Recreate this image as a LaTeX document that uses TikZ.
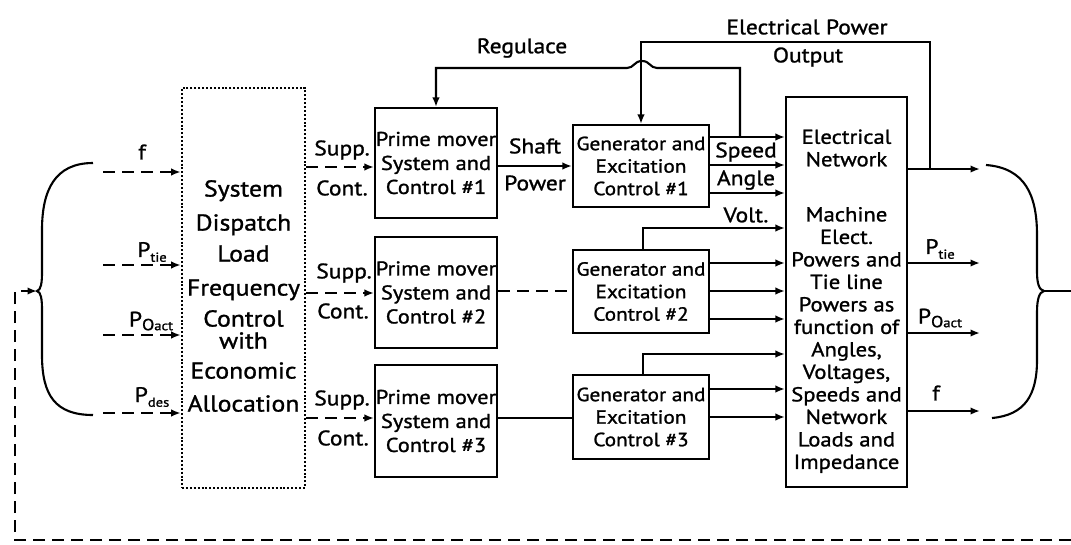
\documentclass[tikz,border=0pt]{standalone}
\usepackage{fontspec}
\setmainfont{PT Sans}
\newfontfamily\basef{PT Sans}[FakeStretch=1.12, FakeBold=1.2]
\usetikzlibrary{arrows.meta}
\newcommand{\pmf}{\basef\fontsize{20}{24}\selectfont}
\newcommand{\genf}{\basef\fontsize{19}{22.5}\selectfont}
\newcommand{\netf}{\basef\fontsize{20.2}{22.5}\selectfont}
\newcommand{\dispf}{\basef\fontsize{23}{22}\selectfont}
\newcommand{\lblf}{\basef\fontsize{21}{22}\selectfont}
\newcommand{\subfont}{\fontsize{13}{14}\selectfont}
\newcommand{\subO}{\fontsize{16}{16}\selectfont}
\begin{document}
\begin{tikzpicture}[x=1pt,y=-1pt,
  box/.style={draw, line width=2.1pt, inner sep=0pt, align=center},
  dotbox/.style={draw, line width=2.6pt, dash pattern=on 2pt off 1.9pt, inner sep=0pt},
  txt/.style={inner sep=0pt, align=center},
  lbl/.style={inner sep=0pt, align=center, font=\lblf},
  conn/.style={line width=2.1pt, -{Latex[length=9.5pt,width=7.5pt]}},
  dconn/.style={conn, dash pattern=on 12pt off 7pt},
  plain/.style={line width=2.1pt},
  dplain/.style={line width=2.1pt, dash pattern=on 12pt off 7pt}]
\useasboundingbox (0,0) rectangle (1071,544);
\fill[white] (0,0) rectangle (1071,544);

% boxes
\node[dotbox, minimum width=123pt, minimum height=400pt] (disp) at (243.5,288) {};
\node[txt, font=\dispf] (disptext) at (243.5,296) {System\\[12pt]Dispatch\\[9pt]Load\\[12pt]Frequency\\[9pt]Control\\with\\[8pt]Economic\\[11pt]Allocation};
\node[box, font=\pmf, minimum width=122pt, minimum height=110pt] (pm1) at (436,163) {Prime mover\\System and\\Control \#1};
\node[box, font=\pmf, minimum width=122pt, minimum height=111pt] (pm2) at (436,292.5) {Prime mover\\System and\\Control \#2};
\node[box, font=\pmf, minimum width=122pt, minimum height=112pt] (pm3) at (436,421) {Prime mover\\System and\\Control \#3};
\node[box, font=\genf, minimum width=136pt, minimum height=82pt] (gen1) at (641,166) {Generator and\\Excitation\\Control \#1};
\node[box, font=\genf, minimum width=136pt, minimum height=83pt] (gen2) at (641,291.5) {Generator and\\Excitation\\Control \#2};
\node[box, font=\genf, minimum width=136pt, minimum height=84pt] (gen3) at (641,417) {Generator and\\Excitation\\Control \#3};
\node[box, minimum width=121pt, minimum height=390pt] (net) at (846.5,292) {};
\node[txt, font=\netf] (netA) at (846.5,148) {Electrical\\Network};
\node[txt, font=\netf] (netB) at (846.5,340) {Machine\\Elect.\\Powers and\\Tie line\\Powers as\\function of\\Angles,\\Voltages,\\Speeds and\\Network\\Loads and\\Impedance};

% inputs to dispatch
\coordinate (inf) at (103,172);
\coordinate (intie) at (103,265);
\coordinate (inact) at (103,335);
\coordinate (indes) at (103,413);
\draw[dconn] (inf) -- (inf -| disp.west);
\draw[dconn] (intie) -- (intie -| disp.west);
\draw[dconn] (inact) -- (inact -| disp.west);
\draw[dconn] (indes) -- (indes -| disp.west);
\node[lbl] (lf) at (142,152) {f};
\node[lbl] (ltie) at (152,252) {P\raisebox{-0.45ex}{\subfont tie}};
\node[lbl] (lact) at (151,321) {P\raisebox{-0.35ex}{\subO O\subfont act}};
\node[lbl] (ldes) at (152,397) {P\raisebox{-0.45ex}{\subfont des}};

% left brace
\coordinate (lbtip) at (37,291);
\draw[plain] (93,163) .. controls (55,163) and (42,190) .. (42,230) -- (42,272)
  .. controls (42,283) and (41,290) .. (lbtip)
  .. controls (41,292) and (42,299) .. (42,310) -- (42,355)
  .. controls (42,395) and (55,415) .. (93,415);

% feedback dashed
\coordinate (fbR) at (1071,540);
\draw[dconn] (fbR) -- (15,540) -- (15,291) -- (lbtip);

% supp cont
\draw[dconn] (disp.east |- 0,167) -- (pm1.west |- 0,167);
\draw[dconn] (disp.east |- 0,293) -- (pm2.west |- 0,293);
\draw[dconn] (disp.east |- 0,418) -- (pm3.west |- 0,418);
\node[lbl] (s1) at (342,150) {Supp.};
\node[lbl] (c1) at (342,188) {Cont.};
\node[lbl] (s2) at (344,273) {Supp.};
\node[lbl] (c2) at (343,311) {Cont.};
\node[lbl] (s3) at (342,400) {Supp.};
\node[lbl] (c3) at (343,438) {Cont.};

% prime mover to generator
\draw[conn] (pm1.east |- 0,166) -- (gen1.west |- 0,166);
\draw[dplain] (pm2.east |- 0,291) -- (gen2.west |- 0,291);
\draw[plain] (pm3.east |- 0,418) -- (gen3.west |- 0,418);
\node[lbl] (shaft) at (535,146) {Shaft};
\node[lbl] (power) at (535,183) {Power};

% generator outputs
\draw[conn] (gen1.east |- 0,137) -- (net.west |- 0,137);
\draw[conn] (gen1.east |- 0,165) -- (net.west |- 0,165);
\draw[conn] (gen1.east |- 0,193) -- (net.west |- 0,193);
\draw[conn] (gen2.north -| 643,0) -- (643,228) -- (net.west |- 0,228);
\draw[conn] (gen2.east |- 0,263) -- (net.west |- 0,263);
\draw[conn] (gen2.east |- 0,291) -- (net.west |- 0,291);
\draw[conn] (gen2.east |- 0,319) -- (net.west |- 0,319);
\draw[conn] (gen3.north -| 643,0) -- (643,354) -- (net.west |- 0,354);
\draw[conn] (gen3.east |- 0,389) -- (net.west |- 0,389);
\draw[conn] (gen3.east |- 0,417) -- (net.west |- 0,417);
\node[lbl] (lspeed) at (746,152) {Speed};
\node[lbl] (langle) at (746,180) {Angle};
\node[lbl] (lvolt) at (746,215) {Volt.};

% regulace feedback
\coordinate (rj) at (740,137);
\draw[conn] (rj) -- (740,68) -- (657,68) .. controls (650,68) and (650,61) .. (642,61)
  .. controls (634,61) and (634,68) .. (627,68) -- (pm1.north |- 0,68) -- (pm1.north);
\node[lbl] (lreg) at (522,48) {Regulace};

% electrical power output feedback
\coordinate (o1) at (980,169);
\coordinate (ej) at (930,169);
\draw[conn] (net.east |- o1) -- (o1);
\draw[conn] (ej) -- (930,42) -- (gen1.north |- 0,42) -- (gen1.north);
\node[lbl] (lep) at (807,27) {Electrical Power};
\node[lbl] (lout) at (808,57) {Output};

% network outputs
\coordinate (o2) at (980,263);
\coordinate (o3) at (980,333);
\coordinate (o4) at (980,411);
\draw[conn] (net.east |- o2) -- (o2);
\draw[conn] (net.east |- o3) -- (o3);
\draw[conn] (net.east |- o4) -- (o4);
\node[lbl] (rtie) at (940,249) {P\raisebox{-0.45ex}{\subfont tie}};
\node[lbl] (ract) at (940,318) {P\raisebox{-0.35ex}{\subO O\subfont act}};
\node[lbl] (rf) at (936,393) {f};

% right brace
\coordinate (rbtip) at (1044,291);
\draw[plain] (986,165) .. controls (1025,168) and (1037,195) .. (1037,235) -- (1037,272)
  .. controls (1037,283) and (1039,290) .. (rbtip)
  .. controls (1039,292) and (1037,300) .. (1037,312) -- (1037,360)
  .. controls (1037,395) and (1025,415) .. (992,418);
\coordinate (rbR) at (1071,291);
\draw[plain] (rbtip) -- (rbR);
\end{tikzpicture}
\end{document}
